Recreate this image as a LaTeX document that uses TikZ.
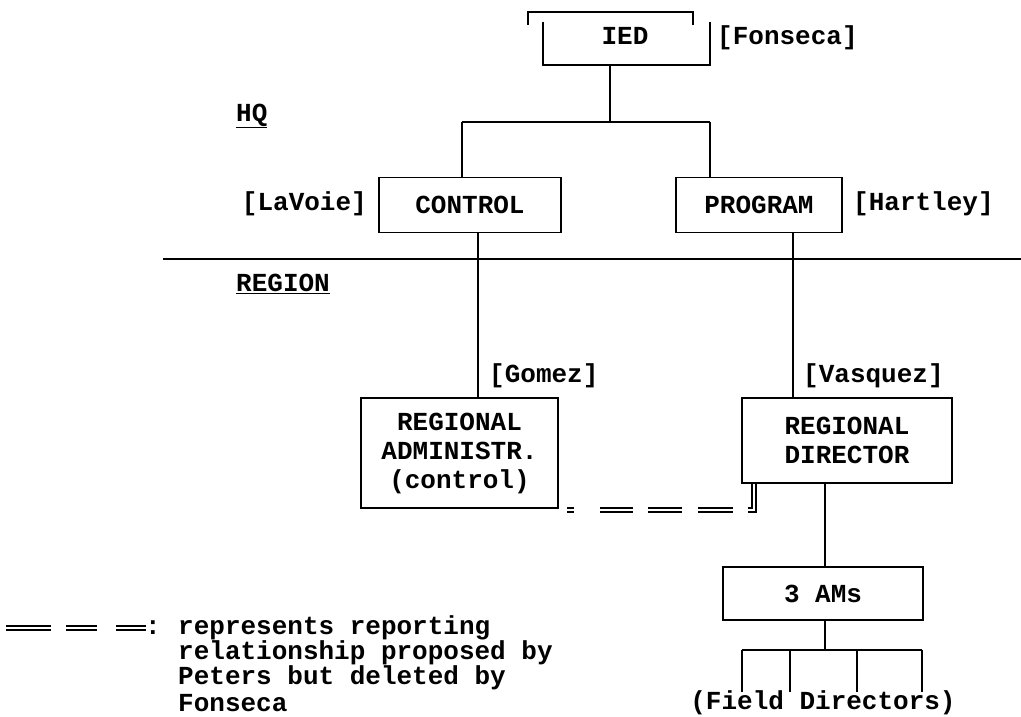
\documentclass[tikz,border=0pt]{standalone}
\usepackage{fontspec}
\setmainfont{Liberation Mono}
\usetikzlibrary{calc}
\begin{document}
\begin{tikzpicture}[x=1pt,y=-1pt,
  every node/.style={font=\fontsize{26}{27}\selectfont\bfseries, inner sep=0pt},
  box/.style={draw, line width=1.6pt, align=center, font=\fontsize{26}{29}\selectfont\bfseries},
  ln/.style={line width=1.6pt},
  dbl/.style={line width=1.5pt, double, double distance=2.6pt}]
\useasboundingbox (0,0) rectangle (1021,717);
% top
\node[minimum width=167pt, minimum height=43pt] (ied) at (626.5,43.5) {};
\node (iedtext) at (625,36) {IED};
\draw[ln] (ied.north west) -- (ied.south west) -- (ied.south east) -- (ied.north east);
\draw[ln] ($(ied.north west)+(-15,3)$) -- ($(ied.north west)+(-15,-10)$) -- ($(ied.north east)+(-17,-10)$) -- ($(ied.north east)+(-17,3)$);
\node[anchor=west] (fonseca) at (717,38) {[Fonseca]};
\node[anchor=west] (hq) at (236,116) {\underline{HQ}};
% HQ level
\node[box, minimum width=182pt, minimum height=55pt] (control) at (470,205) {CONTROL};
\node[anchor=east] (lavoie) at (367,204) {[LaVoie]};
\node[box, minimum width=166pt, minimum height=55pt] (program) at (759,205) {PROGRAM};
\node[anchor=west] (hartley) at (853,204) {[Hartley]};
\coordinate (j0) at (610,122);
\coordinate (jl) at (462,122);
\coordinate (jr) at (710,122);
\draw[ln] (ied.south -| j0) -- (j0);
\draw[ln] (jl) -- (jr);
\draw[ln] (jl) -- (jl |- control.north);
\draw[ln] (jr) -- (jr |- program.north);
% divider
\coordinate (dl) at (163,259);
\coordinate (dr) at (1021,259);
\draw[ln] (dl) -- (dr);
\node[anchor=west] (region) at (236,284) {\underline{REGION}};
% region level
\node[box, minimum width=197pt, minimum height=110pt] (radmin) at (459.5,453) {REGIONAL\\ADMINISTR.\\(control)};
\node[box, minimum width=210pt, minimum height=85pt] (rdir) at (847,440.5) {REGIONAL\\DIRECTOR};
\node[anchor=west] (gomez) at (489,376) {[Gomez]};
\node[anchor=west] (vasquez) at (803,376) {[Vasquez]};
\coordinate (c1) at (478,0);
\coordinate (c2) at (793,0);
\draw[ln] (control.south -| c1) -- (radmin.north -| c1);
\draw[ln] (program.south -| c2) -- (rdir.north -| c2);
% proposed reporting line
\coordinate (p0) at (567,510);
\coordinate (p1) at (754,510);
\draw[dbl, dash pattern=on 7pt off 26pt on 33pt off 15pt on 34pt off 16pt on 35pt off 15pt on 60pt] (p0) -- (p1) -- (p1 |- rdir.south);
% AMs
\node[box, minimum width=200pt, minimum height=53pt] (ams) at (823,593.5) {3 AMs};
\coordinate (c3) at (825,0);
\draw[ln] (rdir.south -| c3) -- (ams.north -| c3);
\coordinate (f0) at (825,650);
\draw[ln] (ams.south -| c3) -- (f0);
\coordinate (fa) at (742,650);
\coordinate (fb) at (790,650);
\coordinate (fc) at (857,650);
\coordinate (fd) at (922,650);
\draw[ln] (fa) -- (fd);
\foreach \p in {fa,fb,fc,fd} \draw[ln] (\p) -- ++(0,42);
\node (field) at (823,703) {(Field Directors)};
% legend
\coordinate (l0) at (6,628);
\draw[dbl] (l0) -- ++(45,0);
\draw[dbl] ($(l0)+(60,0)$) -- ++(31,0);
\draw[dbl] ($(l0)+(110,0)$) -- ++(30,0);
\node[anchor=west] (colon) at (145,628) {:};
\node[anchor=west] (legend) at (178,628) {represents reporting};
\node[anchor=west] (legend2) at (178,653) {relationship proposed by};
\node[anchor=west] (legend3) at (178,678) {Peters but deleted by};
\node[anchor=west] (legend4) at (178,703) {Fonseca};
\end{tikzpicture}
\end{document}
